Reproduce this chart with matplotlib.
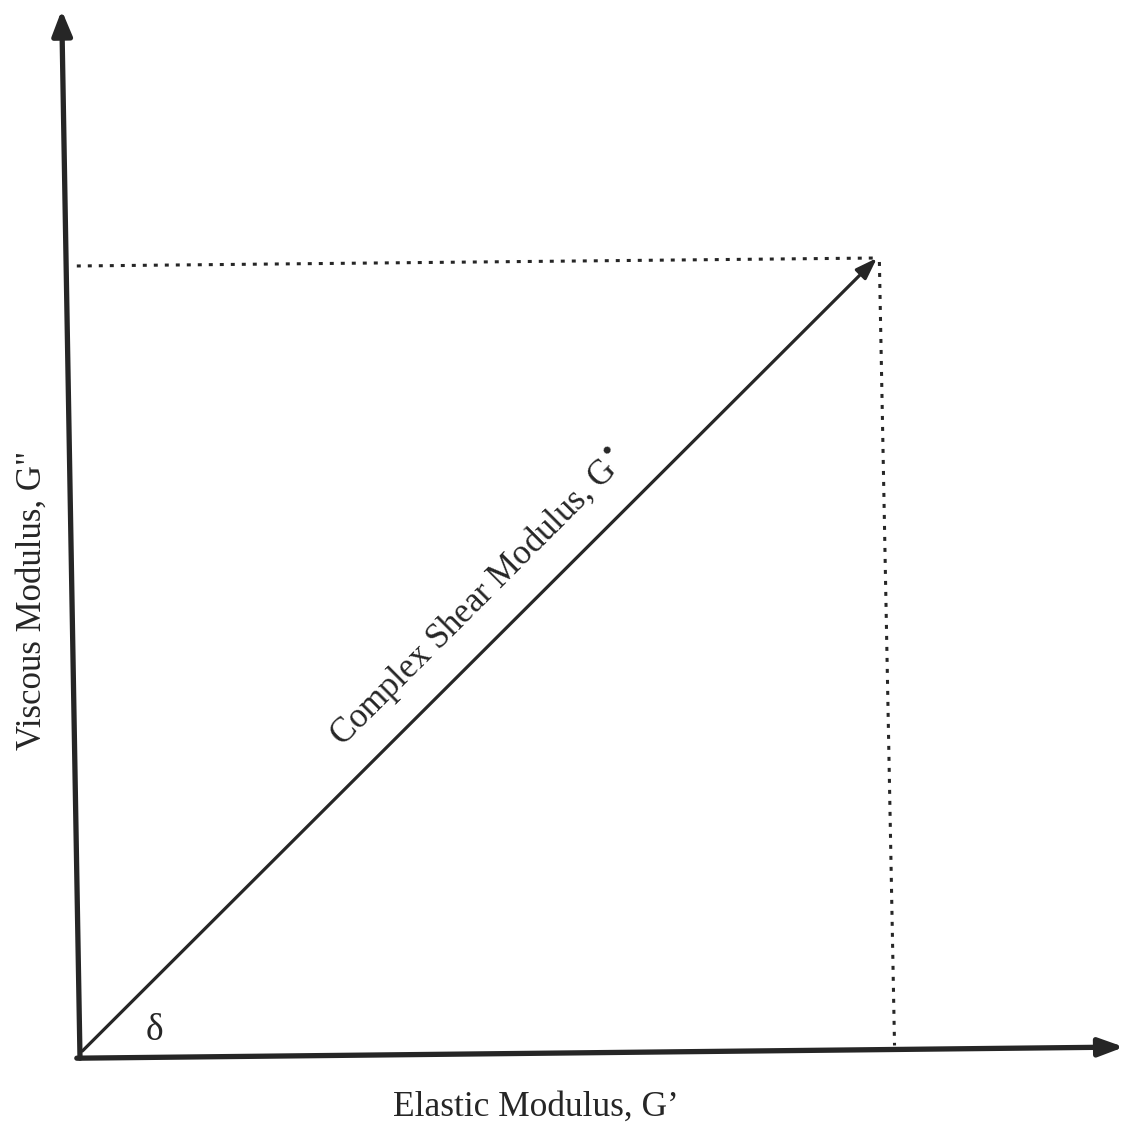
import matplotlib
matplotlib.use("Agg")
import matplotlib.pyplot as plt

plt.rcParams['font.family'] = ['Liberation Serif', 'DejaVu Serif']

# diagram geometry in modulus units (G* tip at G'=1, G''=1)
origin = (0.0, 0.0)
y_axis_tip = (-0.023, 1.311)
x_axis_tip = (1.31, 0.01)
g_star_tip = (1.0, 1.0)
g2_guide_x = [-0.004, 1.0]
g2_guide_y = [0.99, 1.0]
g1_guide_x = [1.003, 1.022]
g1_guide_y = [0.995, 0.012]

x_label = "Elastic Modulus, G\u2019"
y_label = "Viscous Modulus, G\""
diag_label = "Complex Shear Modulus, G$^{\u2022}$"
angle_label = "\u03b4"

ink = '#262626'

fig = plt.figure(figsize=(11.26, 11.22), dpi=100)
ax = fig.add_axes([80/1126, 67/1122, 797/1126, 797/1122])
ax.set_xlim(0, 1)
ax.set_ylim(0, 1)
ax.axis('off')

# axes arrows
ax.annotate('', xy=y_axis_tip, xytext=(0.0, -0.004), annotation_clip=False,
            arrowprops=dict(arrowstyle='-|>,head_length=1.5,head_width=0.6',
                            lw=3.8, color=ink, shrinkA=0, shrinkB=0))
ax.annotate('', xy=x_axis_tip, xytext=(-0.004, -0.004), annotation_clip=False,
            arrowprops=dict(arrowstyle='-|>,head_length=1.5,head_width=0.55',
                            lw=3.8, color=ink, shrinkA=0, shrinkB=0))

# complex modulus vector
ax.annotate('', xy=g_star_tip, xytext=(0.003, 0.005), annotation_clip=False,
            arrowprops=dict(arrowstyle='-|>,head_length=1.3,head_width=0.45',
                            lw=2.3, color=ink, shrinkA=0, shrinkB=0))

# dotted projections
ax.plot(g2_guide_x, g2_guide_y, color=ink, lw=2.2, ls=(0, (1.3, 2.3)), clip_on=False)
ax.plot(g1_guide_x, g1_guide_y, color=ink, lw=2.2, ls=(0, (1.3, 2.3)), clip_on=False)

# labels
ax.text(0.572, -0.066, x_label, ha='center', va='center', fontsize=25.5,
        color=ink, transform=ax.transAxes, clip_on=False)
ax.text(-0.06, 0.57, y_label, ha='center', va='center', fontsize=25,
        color=ink, rotation=90, transform=ax.transAxes, clip_on=False)
ax.text(0.50, 0.573, diag_label, ha='center', va='center', fontsize=25,
        color=ink, rotation=45, rotation_mode='anchor')
ax.text(0.094, 0.03, angle_label, ha='center', va='center', fontsize=27,
        color=ink)

fig.savefig('out.png', dpi=100, facecolor='white')
